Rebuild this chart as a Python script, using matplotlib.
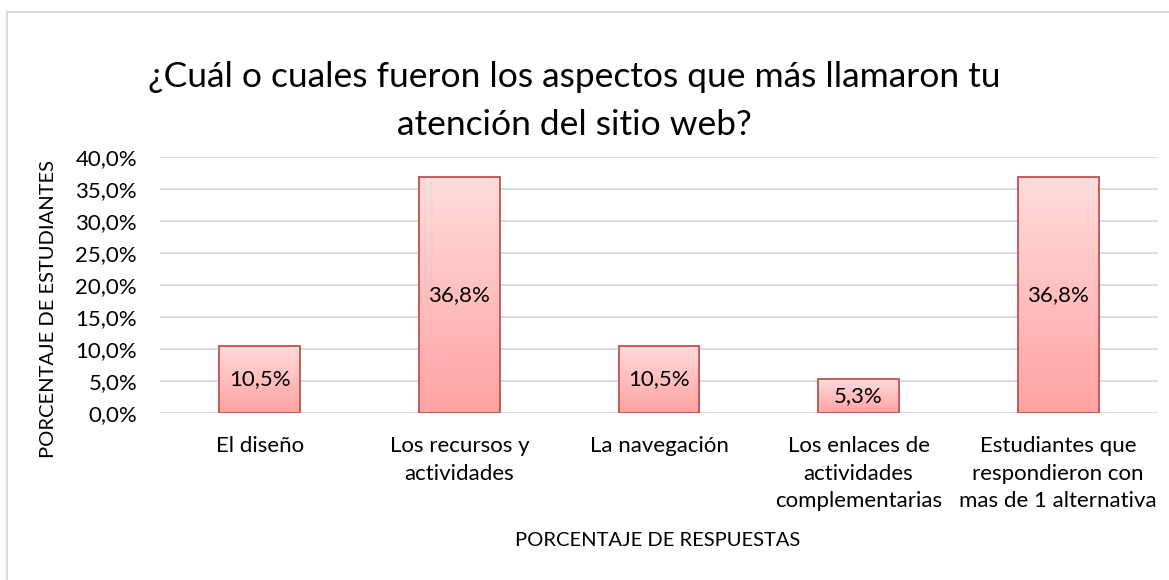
import matplotlib.pyplot as plt, numpy as np
from matplotlib.patches import Rectangle
from matplotlib.colors import LinearSegmentedColormap
from matplotlib.ticker import FuncFormatter

categorias = ['El diseño', 'Los recursos y\nactividades', 'La navegación',
              'Los enlaces de\nactividades\ncomplementarias',
              'Estudiantes que\nrespondieron con\nmas de 1 alternativa']
valores = [10.5, 36.8, 10.5, 5.3, 36.8]
etiquetas = ['10,5%', '36,8%', '10,5%', '5,3%', '36,8%']

plt.rcParams['font.family'] = ['Lato', 'DejaVu Sans']

fig = plt.figure(figsize=(11.69, 5.8), dpi=100)
ax = fig.add_axes([160/1169, 1 - 413/580, 998/1169, 256/580])

# marco exterior
fig.patches.append(Rectangle((7/1169, -0.1), 1.2, 1 - 12/580 + 0.1, transform=fig.transFigure,
                             fill=False, edgecolor='#d9d9d9', linewidth=1.5))

x = np.arange(len(categorias))
ancho = 0.405
cmap = LinearSegmentedColormap.from_list('rosa', ['#ffa2a2', '#ffdcdc'])
grad = np.linspace(0, 1, 256).reshape(-1, 1)

bars = ax.bar(x, valores, width=ancho, color='none', edgecolor='#c0504d', linewidth=1.3, zorder=3)
for b, lab in zip(bars, etiquetas):
    x0, y0 = b.get_x(), b.get_y()
    w, h = b.get_width(), b.get_height()
    im = ax.imshow(grad, cmap=cmap, origin='lower', aspect='auto',
                   extent=[x0, x0 + w, y0, y0 + h], zorder=2)
    im.set_clip_path(b)
    ax.text(x0 + w / 2, h / 2, lab, ha='center', va='center', fontsize=16, color='#000000', zorder=4)

ax.set_xlim(-0.5, len(categorias) - 0.5)
ax.set_ylim(0, 40)
ax.set_yticks(np.arange(0, 41, 5))
ax.yaxis.set_major_formatter(FuncFormatter(lambda v, p: ('%.1f%%' % v).replace('.', ',')))
ax.set_xticks(x)
ax.set_xticklabels(categorias, fontsize=16, linespacing=1.48)
ax.tick_params(axis='y', labelsize=16, length=0, pad=16.5)
ax.tick_params(axis='x', length=0, pad=16.5)
ax.grid(axis='y', color='#d9d9d9', linewidth=1.3, zorder=0)
for s in ax.spines.values():
    s.set_visible(False)

fig.text(658/1169, 1 - 541/580, 'PORCENTAJE DE RESPUESTAS', ha='center', va='center', fontsize=14.5)
fig.text(49/1169, 1 - 309/580, 'PORCENTAJE DE ESTUDIANTES', ha='center', va='center',
         rotation=90, fontsize=14.5)

fig.text(574/1169, 1 - 101/580, '¿Cuál o cuales fueron los aspectos que más llamaron tu\natención del sitio web?',
         ha='center', va='center', fontsize=25.5, linespacing=1.62)

fig.savefig('out.png', dpi=100)
